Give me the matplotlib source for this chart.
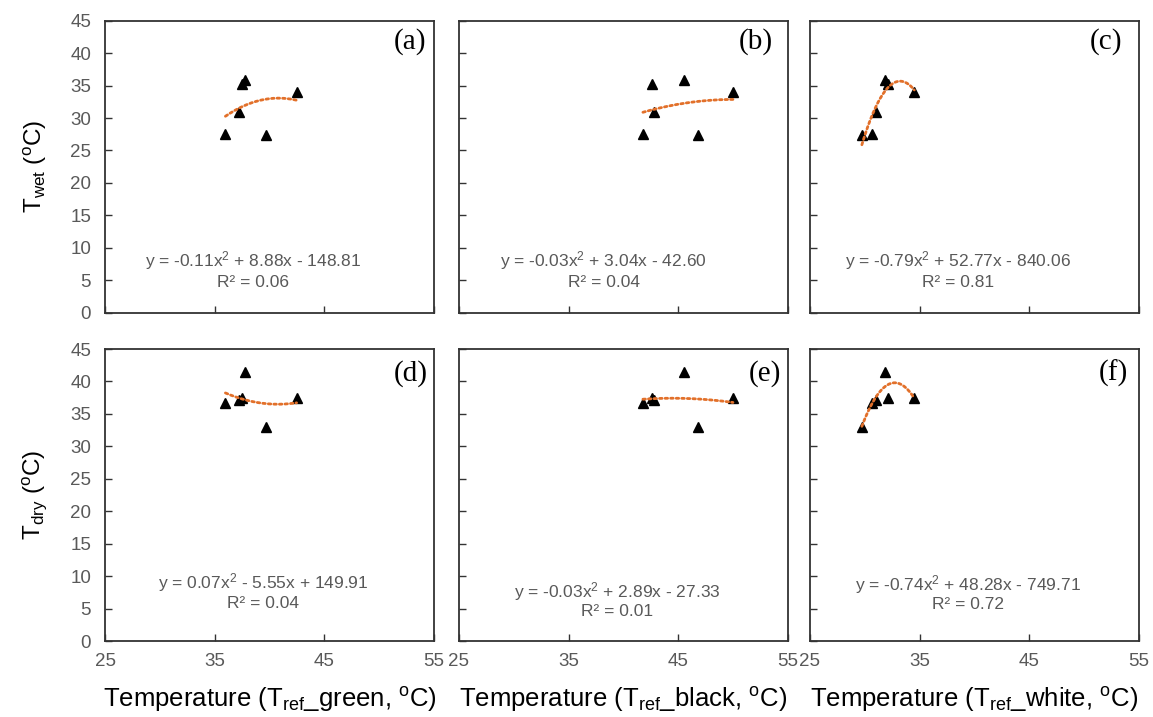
import numpy as np
import matplotlib
matplotlib.use("Agg")
import matplotlib.pyplot as plt

plt.rcParams['font.family'] = ['Liberation Sans', 'DejaVu Sans']
plt.rcParams['mathtext.fontset'] = 'custom'
plt.rcParams['mathtext.rm'] = 'Liberation Sans'
plt.rcParams['mathtext.it'] = 'Liberation Sans:italic'

# ---- data ----
t_ref_green = [35.98, 37.23, 37.53, 37.81, 39.64, 42.47]
t_ref_black = [41.77, 42.78, 42.59, 45.56, 46.80, 49.98]
t_ref_white = [30.65, 31.04, 32.11, 31.80, 29.73, 34.51]
t_wet = [27.6, 31.0, 35.3, 35.9, 27.4, 34.0]
t_dry = [36.7, 37.2, 37.5, 41.5, 33.0, 37.5]

panel_letters = ['(a)', '(b)', '(c)', '(d)', '(e)', '(f)']
equations = ['y = -0.11x$^2$ + 8.88x - 148.81', 'y = -0.03x$^2$ + 3.04x - 42.60',
             'y = -0.79x$^2$ + 52.77x - 840.06', 'y = 0.07x$^2$ - 5.55x + 149.91',
             'y = -0.03x$^2$ + 2.89x - 27.33', 'y = -0.74x$^2$ + 48.28x - 749.71']
r2_texts = ['R² = 0.06', 'R² = 0.04', 'R² = 0.81', 'R² = 0.04', 'R² = 0.01', 'R² = 0.72']
x_labels = [r'Temperature (T$_{\mathrm{ref}}$_green, $^{\mathrm{o}}$C)',
            r'Temperature (T$_{\mathrm{ref}}$_black, $^{\mathrm{o}}$C)',
            r'Temperature (T$_{\mathrm{ref}}$_white, $^{\mathrm{o}}$C)']
y_labels = [r'T$_{\mathrm{wet}}$ ($^{\mathrm{o}}$C)', r'T$_{\mathrm{dry}}$ ($^{\mathrm{o}}$C)']
x_ticks = [25, 35, 45, 55]
y_ticks = [0, 5, 10, 15, 20, 25, 30, 35, 40, 45]

xs = [t_ref_green, t_ref_black, t_ref_white]
ys = [t_wet, t_dry]

# ---- layout ----
W, H = 1153, 717
fig = plt.figure(figsize=(W / 100, H / 100), dpi=100)
lefts = [105, 459, 810]
tops = [20.7, 349]
aw, ah = 329, 292
letter_x = [0.975, 0.955, 0.95, 0.98, 0.98, 0.968]
eq_pos = [(0.45, 0.18, 0.105), (0.44, 0.18, 0.105), (0.45, 0.18, 0.105),
          (0.48, 0.20, 0.128), (0.48, 0.17, 0.10), (0.48, 0.195, 0.125)]
gray = '#595959'
orange = '#E2702A'

for r in range(2):
    for c in range(3):
        i = r * 3 + c
        ax = fig.add_axes([lefts[c] / W, 1 - (tops[r] + ah) / H, aw / W, ah / H])
        x = np.array(xs[c])
        y = np.array(ys[r])
        coef = np.polyfit(x, y, 2)
        xx = np.linspace(x.min(), x.max(), 200)
        ax.plot(xx, np.polyval(coef, xx), color=orange, lw=2.0,
                linestyle=(0, (0.9, 1.1)), dash_capstyle='round', zorder=3)
        ax.plot(x, y, linestyle='none', marker='^', color='black', ms=7.5, zorder=2)
        ax.set_xlim(25, 55)
        ax.set_ylim(0, 45)
        ax.set_xticks(x_ticks)
        ax.set_yticks(y_ticks)
        ax.tick_params(direction='in', length=5, width=1, color='#333333',
                       labelcolor=gray, labelsize=13.5)
        ax.tick_params(axis='y', pad=10)
        ax.tick_params(axis='x', pad=9)
        if c != 0:
            ax.set_yticklabels([])
        if r == 0:
            ax.set_xticklabels([])
        for s in ax.spines.values():
            s.set_color('#333333')
            s.set_linewidth(1.3)
        ax.text(letter_x[i], 0.93 if r == 0 else 0.915, panel_letters[i],
                transform=ax.transAxes, ha='right', va='center',
                family='Liberation Serif', fontsize=21, color='black')
        ex, ey, ry = eq_pos[i]
        ax.text(ex, ey, equations[i], transform=ax.transAxes, ha='center',
                va='center', fontsize=12.5, color=gray)
        ax.text(ex, ry, r2_texts[i], transform=ax.transAxes, ha='center',
                va='center', fontsize=12.5, color=gray)
        if c == 0:
            ax.set_ylabel(y_labels[r], fontsize=17.5, color='black')
            ax.yaxis.set_label_coords(-0.17, 0.5)
        if r == 1:
            ax.set_xlabel(x_labels[c], fontsize=18.5, color='black')
            ax.xaxis.set_label_coords(0.5, -0.15)

fig.savefig('out.png', dpi=100)
